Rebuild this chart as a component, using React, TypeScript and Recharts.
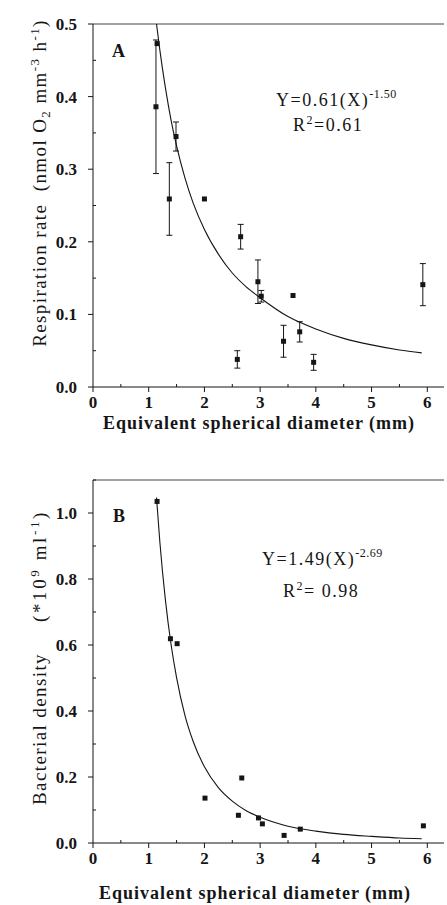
import { ComposedChart, Line, Scatter, XAxis, YAxis, ErrorBar, ReferenceLine } from 'recharts';

const font = '"Liberation Serif", "Times New Roman", serif';
const ink = '#151515';

// Panel A — respiration rate, points with SE bars
const diamA = [1.13, 1.37, 1.49, 2.59, 2.65, 2.96, 3.02, 3.42, 3.71, 3.96, 5.92];
const respA = [0.386, 0.259, 0.345, 0.038, 0.207, 0.145, 0.125, 0.063, 0.076, 0.034, 0.141];
const respErrA = [0.092, 0.05, 0.02, 0.012, 0.017, 0.03, 0.008, 0.022, 0.014, 0.011, 0.029];
// Panel A — points drawn without bars
const diamA2 = [1.15, 2.0, 3.59];
const respA2 = [0.473, 0.259, 0.126];
// Panel A — fitted curve, Y = 0.61 X^-1.50
const fitDiamA = [1.14, 1.2, 1.3, 1.4, 1.5, 1.65, 1.8, 2.0, 2.25, 2.5, 2.75, 3.0, 3.5, 4.0, 4.5, 5.0, 5.5, 5.9];
const fitRespA = [0.5, 0.464, 0.412, 0.368, 0.332, 0.288, 0.253, 0.217, 0.183, 0.157, 0.138, 0.123, 0.097, 0.08, 0.067, 0.058, 0.051, 0.047];

// Panel B — bacterial density
const diamB = [1.15, 1.39, 1.51, 2.01, 2.61, 2.67, 2.97, 3.04, 3.43, 3.72, 5.93];
const densB = [1.035, 0.619, 0.604, 0.136, 0.084, 0.197, 0.076, 0.058, 0.023, 0.042, 0.052];
// Panel B — fitted curve, Y = 1.49 X^-2.69
const fitDiamB = [1.14, 1.2, 1.3, 1.4, 1.5, 1.65, 1.8, 2.0, 2.25, 2.5, 2.75, 3.0, 3.5, 4.0, 4.5, 5.0, 5.5, 5.9];
const fitDensB = [1.047, 0.912, 0.736, 0.603, 0.501, 0.387, 0.307, 0.231, 0.168, 0.127, 0.098, 0.078, 0.051, 0.036, 0.026, 0.02, 0.015, 0.013];

const xTicks = [0, 0.5, 1, 1.5, 2, 2.5, 3, 3.5, 4, 4.5, 5, 5.5, 6];
const yTicksA = [0, 0.05, 0.1, 0.15, 0.2, 0.25, 0.3, 0.35, 0.4, 0.45, 0.5];
const yTicksB = [0, 0.1, 0.2, 0.3, 0.4, 0.5, 0.6, 0.7, 0.8, 0.9, 1.0, 1.1];

const ptsA = diamA.map((x, i) => ({ x, y: respA[i], err: respErrA[i] }));
const plainA = diamA2.map((x, i) => ({ x, y: respA2[i] }));
const fitA = fitDiamA.map((x, i) => ({ x, y: fitRespA[i] }));
const ptsB = diamB.map((x, i) => ({ x, y: densB[i] }));
const fitB = fitDiamB.map((x, i) => ({ x, y: fitDensB[i] }));

function Square(props: any) {
  const { cx, cy } = props;
  if (cx == null || cy == null) return <g />;
  return <rect x={cx - 2.5} y={cy - 2.5} width={5} height={5} fill={ink} />;
}

function makeYTick(step: number) {
  return (props: any) => {
    const { x, y, payload } = props;
    const v = payload.value;
    const major = Math.abs(v / step - Math.round(v / step)) < 1e-6;
    return (
      <g key={`yt-${v}`}>
        {major
          ? <line x1={x - 5} x2={x} y1={y} y2={y} stroke={ink} />
          : <line x1={x} x2={x + 3} y1={y} y2={y} stroke={ink} />}
        {major && (
          <text x={x - 16} y={y + 6} textAnchor="end" fontSize={17} fontWeight="bold" fontFamily={font} fill={ink}>
            {v.toFixed(1)}
          </text>
        )}
      </g>
    );
  };
}

function XTick(props: any) {
  const { x, y, payload } = props;
  const v = payload.value;
  const major = Number.isInteger(v);
  return (
    <g key={`xt-${v}`}>
      {major
        ? <line x1={x} x2={x} y1={y} y2={y + 5} stroke={ink} />
        : <line x1={x} x2={x} y1={y - 3} y2={y} stroke={ink} />}
      {major && (
        <text x={x} y={y + 21} textAnchor="middle" fontSize={17} fontWeight="bold" fontFamily={font} fill={ink}>
          {v}
        </text>
      )}
    </g>
  );
}

function Panel({ top, height, marginTop, pts, plain, fit, yMax, yTicks, yStep, withErr }: any) {
  return (
    <div style={{ position: 'absolute', left: 0, top }}>
      <ComposedChart width={447} height={height} margin={{ top: marginTop, right: 3, bottom: 0, left: 0 }}>
        <XAxis type="number" dataKey="x" domain={[0, 6.3]} ticks={xTicks} interval={0} allowDataOverflow
          tickSize={0} tickMargin={0} tickLine={false} tick={XTick} axisLine={{ stroke: ink }} height={height - marginTop - 363} />
        <YAxis type="number" domain={[0, yMax]} ticks={yTicks} interval={0} allowDataOverflow width={93}
          tickSize={0} tickMargin={0} tickLine={false} tick={makeYTick(yStep)} axisLine={{ stroke: ink }} />
        <ReferenceLine y={yMax} stroke="#444" />
        <Line data={fit} dataKey="y" type="monotone" dot={false} stroke={ink} strokeWidth={1.1} isAnimationActive={false} />
        <Scatter data={pts} dataKey="y" shape={Square} isAnimationActive={false}>
          {withErr && <ErrorBar dataKey="err" direction="y" width={3} stroke={ink} strokeWidth={1} />}
        </Scatter>
        {plain && <Scatter data={plain} dataKey="y" shape={Square} isAnimationActive={false} />}
      </ComposedChart>
    </div>
  );
}

export default function App() {
  return (
    <div style={{ position: 'absolute', left: 0, top: 0, width: 447, height: 905, background: '#fff' }}>
      <Panel top={0} height={450} marginTop={24} pts={ptsA} plain={plainA} fit={fitA} yMax={0.5} yTicks={yTicksA} yStep={0.1} withErr />
      <Panel top={450} height={455} marginTop={30} pts={ptsB} fit={fitB} yMax={1.1} yTicks={yTicksB} yStep={0.2} />
      <svg width={447} height={905} style={{ position: 'absolute', left: 0, top: 0, pointerEvents: 'none' }} fontFamily={font} fill={ink}>
        <text x={112} y={57} fontSize={18} fontWeight="bold">A</text>
        <text x={276} y={106} fontSize={18} letterSpacing={1.5}>
          Y=0.61(X)<tspan dy={-8} fontSize={12} letterSpacing={0.5}>-1.50</tspan>
        </text>
        <text x={293} y={131} fontSize={18} letterSpacing={1.5}>
          R<tspan dy={-7} fontSize={12}>2</tspan><tspan dy={7}>=0.61</tspan>
        </text>
        <text x={46} y={183} textAnchor="middle" transform="rotate(-90 46 183)" fontSize={19} letterSpacing={1.4} style={{ whiteSpace: 'pre' }}>
          Respiration rate  (nmol O<tspan dy={4} fontSize={13}>2</tspan><tspan dy={-4}> mm</tspan><tspan dy={-7} fontSize={13}>-3</tspan><tspan dy={7}> h</tspan><tspan dy={-7} fontSize={13}>-1</tspan><tspan dy={7}>)</tspan>
        </text>
        <text x={259} y={429} textAnchor="middle" fontSize={18} fontWeight="bold" letterSpacing={1}>
          Equivalent spherical diameter (mm)
        </text>

        <text x={113} y={522} fontSize={18} fontWeight="bold">B</text>
        <text x={262} y={565} fontSize={18} letterSpacing={1.5}>
          Y=1.49(X)<tspan dy={-8} fontSize={12} letterSpacing={0.5}>-2.69</tspan>
        </text>
        <text x={283} y={597} fontSize={18} letterSpacing={1.5} style={{ whiteSpace: 'pre' }}>
          R<tspan dy={-7} fontSize={12}>2</tspan><tspan dy={7}>= 0.98</tspan>
        </text>
        <text x={46} y={729} textAnchor="middle" transform="rotate(-90 46 729)" fontSize={19} letterSpacing={1.4}>
          Bacterial density
        </text>
        <text x={46} y={566} textAnchor="middle" transform="rotate(-90 46 566)" fontSize={19} letterSpacing={2.6}>
          (*10<tspan dy={-7} fontSize={13}>9</tspan><tspan dy={7}> ml</tspan><tspan dy={-7} fontSize={13}>-1</tspan><tspan dy={7}>)</tspan>
        </text>
        <text x={255} y={899} textAnchor="middle" fontSize={18} fontWeight="bold" letterSpacing={1}>
          Equivalent spherical diameter (mm)
        </text>
      </svg>
    </div>
  );
}
